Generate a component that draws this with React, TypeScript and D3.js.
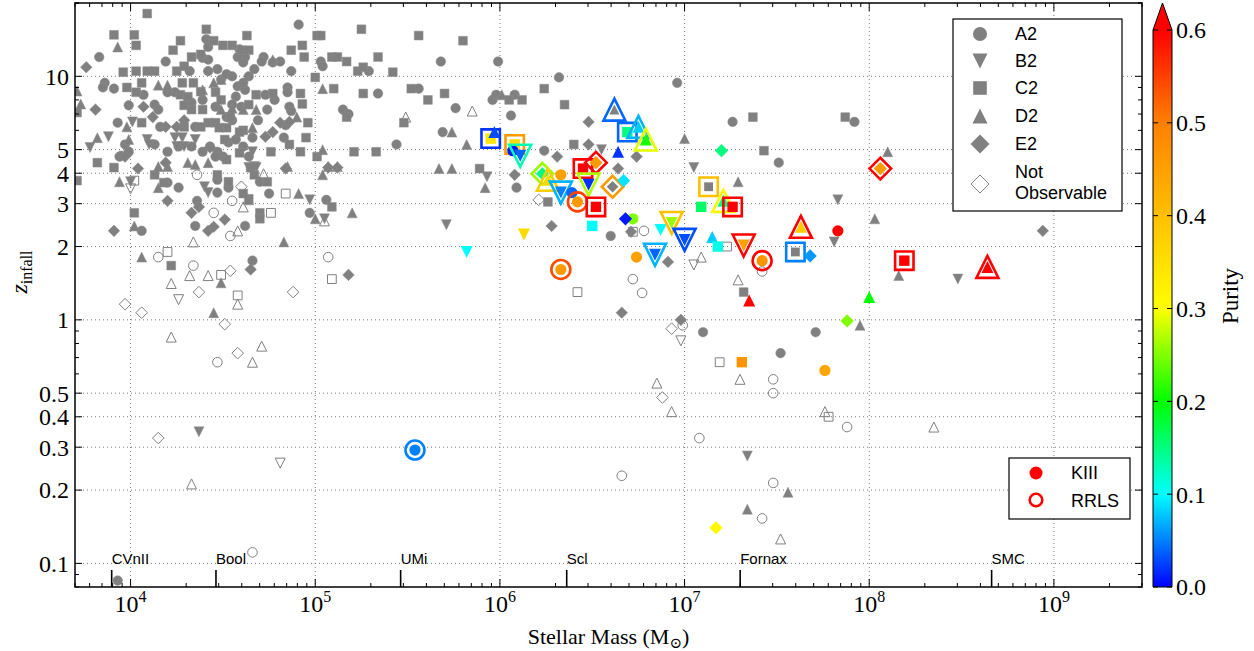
import React from 'react';
import * as d3 from 'd3';

// ---------------- data ----------------
const massDomain = [5e3, 3e9];
const zDomain = [0.08, 20];
const yTickValues = [0.1, 0.2, 0.3, 0.4, 0.5, 1, 2, 3, 4, 5, 10];
const xTickExponents = [4, 5, 6, 7, 8, 9];
const purityTicks = [0, 0.1, 0.2, 0.3, 0.4, 0.5, 0.6];
const purityStops = [0, 0.1, 0.2, 0.3, 0.5, 0.6];
const purityColors = ['#0000ff', '#00ffff', '#00ff00', '#ffff00', '#ff8000', '#ff0000'];
const galaxyNames = ['CVnII', 'Bool', 'UMi', 'Scl', 'Fornax', 'SMC'];
const galaxyMasses = [7.9e3, 2.9e4, 2.9e5, 2.3e6, 2.0e7, 4.6e8];
const haloNames = ['A2', 'B2', 'C2', 'D2', 'E2'];
const haloShapes = ['circle', 'tdown', 'square', 'tup', 'diamond'];

// gray (no purity) satellites: [log10 stellar mass, z_infall]
const grayA2 = [
  [3.83, 12.0], [4.19, 11.5], [4.41, 14.2], [4.42, 13.2], [4.39, 11.9], [4.42, 11.7], [4.59, 12.9], [4.62, 12.0],
  [3.86, 9.4], [3.85, 9.0], [3.91, 8.9], [3.99, 7.6], [3.93, 6.45], [4.07, 8.4], [4.13, 7.65], [4.15, 7.3],
  [4.24, 8.6], [4.2, 8.6], [4.16, 6.2], [3.97, 5.25], [3.99, 4.9], [3.95, 4.72], [4.13, 5.25], [4.2, 4.9],
  [4.26, 5.15], [4.33, 5.15], [4.35, 6.2], [4.47, 10.7], [4.49, 9.7], [4.52, 10.2], [4.55, 10.0], [4.58, 9.1],
  [4.62, 8.8], [4.57, 8.25], [4.6, 7.5], [4.55, 7.65], [4.46, 7.5], [4.52, 6.8], [4.39, 8.0], [4.33, 7.8],
  [4.55, 6.6], [4.64, 10.0], [4.58, 12.0], [4.61, 11.4], [4.61, 9.4], [4.42, 10.5], [4.32, 10.5], [4.39, 4.9],
  [4.43, 5.15], [4.47, 4.9], [4.5, 4.68], [4.53, 5.35], [4.57, 5.5], [4.61, 5.15], [4.64, 4.68],
  [4.91, 16.3], [5.03, 11.5], [5.04, 11.0], [4.87, 10.5], [5.29, 10.5], [5.34, 8.5], [5.15, 7.3], [4.85, 9.0],
  [4.85, 8.6], [4.86, 7.5], [4.87, 7.2], [4.83, 5.6], [5.44, 5.25], [4.74, 7.3], [4.72, 12.0], [4.71, 11.5],
  [4.81, 11.5], [4.77, 11.4], [4.66, 5.6], [3.94, 4.68], [4.2, 3.66], [4.26, 3.49], [4.47, 3.76], [4.53, 3.49],
  [4.47, 3.33], [4.36, 3.08], [4.35, 2.43], [4.62, 2.43], [4.75, 3.3], [4.97, 2.75], [5.06, 3.11], [4.06, 2.32],
  [4.66, 1.75], [4.7, 3.69], [4.46, 4.68], [5.68, 11.5], [5.99, 11.5], [6.32, 9.9], [6.96, 9.4], [5.96, 8.0],
  [5.98, 8.4], [6.08, 8.4], [5.76, 7.4], [5.56, 8.9], [5.69, 5.9], [6.06, 6.9], [6.09, 3.49], [6.24, 4.95],
  [7.26, 6.5], [7.51, 4.42], [7.92, 6.5], [7.1, 0.89], [7.71, 0.89], [7.52, 0.73], [3.93, 0.085], [5.18, 7.0],
  [6.6, 2.21], [4.67, 10.7], [4.73, 8.4], [4.78, 8.0], [4.84, 6.3], [4.69, 6.6],
];
const grayB2 = [
  [3.88, 5.65], [3.78, 5.1], [4.01, 6.5], [4.09, 5.5], [4.1, 5.25], [4.24, 5.6], [4.28, 5.6], [4.29, 5.15],
  [4.25, 5.15], [4.35, 5.5], [4.64, 4.22], [4.66, 4.9], [4.67, 4.26], [4.0, 3.69], [4.97, 3.11], [5.05, 2.6],
  [4.4, 3.52], [4.42, 3.33], [4.68, 4.22], [4.37, 0.347], [5.71, 2.46], [5.93, 3.87], [7.05, 4.22], [6.55, 5.0],
  [7.83, 3.11], [7.81, 2.09], [8.48, 1.47], [7.34, 0.276],
];
const grayC2 = [
  [4.09, 18.1], [3.91, 14.8], [4.02, 14.8], [4.03, 13.4], [4.27, 14.0], [4.41, 15.6], [4.63, 14.7], [4.23, 12.8],
  [4.33, 12.0], [4.45, 14.0], [4.5, 13.4], [4.55, 13.4], [4.6, 12.8], [4.64, 12.8], [4.38, 12.3], [3.96, 10.4],
  [4.03, 10.5], [4.09, 10.5], [4.13, 10.5], [4.25, 10.5], [4.29, 11.0], [4.06, 9.4], [4.03, 8.6], [3.98, 9.0],
  [4.28, 9.4], [4.34, 9.4], [4.27, 8.4], [4.31, 8.25], [4.38, 8.65], [4.46, 8.6], [4.49, 8.0], [4.29, 7.6],
  [4.33, 7.3], [4.39, 7.3], [4.42, 6.45], [4.46, 6.45], [4.52, 6.15], [4.54, 6.8], [4.61, 6.0], [4.64, 7.65],
  [4.59, 5.9], [4.06, 6.45], [3.82, 4.42], [3.91, 4.22], [3.71, 7.1], [4.38, 6.2], [4.29, 6.2], [4.48, 6.15],
  [4.51, 5.5], [4.59, 4.85], [4.52, 4.55], [4.65, 4.22], [5.01, 14.7], [5.03, 14.7], [5.25, 15.6], [5.56, 14.7],
  [4.93, 13.4], [4.87, 12.8], [4.94, 12.0], [5.09, 12.0], [5.12, 12.0], [5.17, 11.5], [5.34, 12.0], [5.23, 10.5],
  [5.26, 10.9], [5.42, 10.4], [5.0, 9.9], [5.1, 8.9], [5.26, 8.5], [5.52, 8.9], [4.92, 8.5], [4.93, 7.7],
  [5.17, 6.8], [5.48, 6.45], [4.96, 6.45], [4.95, 5.6], [4.86, 5.25], [4.76, 4.9], [4.92, 4.9], [5.01, 4.68],
  [5.21, 4.9], [5.33, 4.9], [4.77, 8.5], [4.68, 8.4], [5.8, 14.0], [5.61, 8.0], [5.7, 8.5], [6.05, 8.0],
  [6.12, 8.0], [6.24, 8.9], [6.35, 7.65], [5.89, 4.18], [6.4, 5.25], [7.37, 6.8], [7.43, 4.95], [7.87, 6.8],
  [7.32, 1.3], [6.26, 3.05], [3.71, 3.73], [4.02, 2.75], [4.22, 1.67], [4.13, 3.94], [4.18, 3.66], [4.47, 3.94],
  [4.53, 3.69], [4.67, 3.94], [4.74, 3.69], [4.61, 3.3], [4.64, 3.14], [4.7, 2.75], [4.7, 2.6], [5.09, 2.91],
];
const grayD2 = [
  [3.93, 13.2], [3.71, 8.7], [3.73, 7.7], [3.82, 5.6], [3.98, 6.2], [3.99, 5.5], [4.15, 9.2], [4.2, 9.2],
  [4.39, 8.8], [4.45, 9.4], [4.49, 7.3], [4.55, 7.4], [4.2, 4.26], [4.31, 4.42], [4.35, 4.34], [4.42, 4.42],
  [4.15, 4.26], [4.49, 9.7], [5.04, 8.9], [4.61, 7.3], [4.68, 7.3], [4.9, 6.8], [4.66, 6.15], [5.04, 5.0],
  [4.85, 4.26], [5.07, 4.26], [5.12, 4.26], [4.77, 11.7], [3.94, 3.69], [4.02, 2.43], [4.06, 1.81], [4.49, 1.42],
  [4.45, 1.07], [4.64, 3.11], [4.91, 3.3], [5.0, 2.6], [5.2, 2.75], [4.83, 2.09], [5.04, 3.94], [4.15, 3.49],
  [5.74, 5.9], [5.82, 5.25], [5.67, 4.18], [5.74, 4.18], [5.92, 3.49], [6.01, 8.4], [7.0, 5.55], [7.29, 3.69],
  [8.1, 4.9], [8.03, 2.6], [8.16, 1.52], [7.95, 0.95], [7.56, 0.196], [7.34, 0.167],
];
const grayE2 = [
  [3.76, 10.9], [3.81, 7.3], [4.07, 7.5], [4.12, 6.8], [4.25, 6.2], [4.29, 6.6], [4.19, 6.2], [4.43, 5.1],
  [3.97, 4.68], [4.19, 4.42], [4.81, 6.45], [4.86, 6.5], [4.73, 5.65], [4.77, 5.9], [3.91, 2.32], [4.2, 3.08],
  [4.33, 2.75], [4.37, 2.91], [4.51, 2.58], [4.42, 2.32], [4.45, 2.41], [4.65, 1.61], [5.18, 1.53], [4.84, 4.18],
  [5.07, 4.22], [5.12, 4.22], [4.04, 4.18], [6.48, 6.5], [6.48, 5.25], [6.31, 4.68], [6.08, 3.94], [6.64, 4.18],
  [6.74, 4.68], [6.28, 2.43], [6.91, 1.73], [6.66, 1.07], [6.71, 2.3], [6.98, 1.0], [8.94, 2.32],
];

// not observable satellites (open gray markers)
const openA2 = [
  [4.36, 3.94], [4.45, 2.75], [4.55, 3.08], [4.54, 2.21], [4.15, 1.81], [4.34, 1.67], [4.47, 0.67], [4.66, 0.111],
  [5.07, 1.81], [6.72, 1.47], [6.77, 1.29], [6.78, 2.32], [7.42, 1.58], [6.99, 0.95], [7.48, 0.57], [7.48, 0.5],
  [7.88, 0.363], [7.08, 0.327], [6.66, 0.229], [7.48, 0.214], [7.42, 0.153],
];
const openB2 = [[4.0, 3.45], [4.26, 1.21], [4.81, 0.258], [7.05, 1.68], [6.98, 0.82]];
const openC2 = [
  [4.02, 3.73], [4.2, 1.9], [4.49, 1.53], [4.58, 1.26], [4.76, 2.75], [4.84, 3.3], [5.09, 1.47], [6.42, 1.3],
  [6.72, 2.3], [7.23, 2.0], [7.19, 0.67], [7.78, 0.4],
];
const openD2 = [
  [4.32, 1.52], [4.42, 1.52], [4.22, 1.41], [4.22, 0.85], [4.58, 1.16], [4.71, 0.78], [4.66, 0.67], [4.33, 0.212],
  [4.58, 2.32], [4.34, 2.09], [4.61, 2.91], [4.72, 3.98], [5.49, 6.8], [5.85, 7.2], [7.09, 1.81], [7.29, 1.46],
  [7.3, 0.57], [6.85, 0.55], [6.93, 0.42], [7.76, 0.42], [7.52, 0.126], [8.35, 0.363], [5.05, 2.55],
];
const openE2 = [
  [3.97, 1.16], [4.06, 1.07], [4.37, 1.3], [4.88, 1.3], [4.51, 0.96], [4.58, 0.73], [4.15, 0.327], [4.54, 1.59],
  [4.6, 3.52], [6.21, 3.11], [6.88, 0.48], [6.93, 0.92],
];

// observable satellites: [halo index, log10 mass, z_infall, KIII purity (null = gray), RRLS purity (null = none)]
const satellites = [
  [2, 5.95, 5.55, 0.34, 0.02], [3, 5.97, 5.9, 0.03, null], [2, 6.08, 5.25, 0.36, 0.46],
  [0, 6.07, 4.95, 0.01, null], [1, 6.11, 4.72, 0.04, 0.13], [4, 6.23, 3.98, 0.15, 0.26],
  [3, 6.26, 3.76, 0.36, 0.38], [0, 6.33, 3.94, 0.45, null], [1, 6.33, 3.33, 0.05, 0.07],
  [0, 6.39, 3.33, 0.04, null], [0, 6.42, 3.05, 0.46, 0.55], [2, 6.45, 4.18, 0.62, 0.62],
  [4, 6.52, 4.42, 0.46, 0.62], [1, 6.48, 3.59, 0.02, 0.27], [2, 6.52, 2.91, 0.62, 0.62],
  [2, 6.5, 2.43, 0.1, null], [4, 6.61, 3.52, null, 0.46], [4, 6.67, 3.73, 0.09, null],
  [3, 6.62, 7.3, null, 0.04], [2, 6.69, 5.9, 0.15, 0.04], [3, 6.75, 6.2, 0.08, 0.07],
  [3, 6.79, 5.5, 0.21, 0.29], [3, 6.64, 4.9, 0.02, null], [0, 6.72, 2.6, 0.25, null],
  [4, 6.68, 2.6, 0.01, null], [1, 6.84, 1.85, 0.04, 0.07], [1, 6.87, 2.34, 0.1, null],
  [1, 6.93, 2.5, 0.26, 0.4], [1, 7.0, 2.13, 0.03, 0.03], [0, 6.74, 1.81, 0.45, null],
  [0, 6.33, 1.61, 0.46, 0.54], [1, 5.82, 1.9, 0.1, null], [1, 6.13, 2.24, 0.36, null],
  [4, 7.2, 4.95, 0.15, null], [2, 7.13, 3.52, null, 0.4], [3, 7.21, 3.08, 0.15, 0.31],
  [2, 7.26, 2.91, 0.62, 0.62], [2, 7.09, 2.91, 0.16, null], [3, 7.15, 2.19, 0.08, null],
  [2, 7.18, 2.0, 0.11, null], [1, 7.32, 2.02, 0.45, 0.62], [0, 7.42, 1.75, 0.47, 0.62],
  [2, 7.6, 1.9, null, 0.05], [4, 7.68, 1.83, 0.06, null], [3, 7.63, 2.41, 0.38, 0.62],
  [3, 7.35, 1.2, 0.62, null], [0, 7.83, 2.32, 0.62, null], [4, 8.06, 4.18, 0.46, 0.62],
  [2, 8.19, 1.75, 0.62, 0.62], [3, 8.64, 1.65, 0.62, 0.62], [3, 8.0, 1.24, 0.2, null],
  [4, 7.88, 0.99, 0.25, null], [0, 5.54, 0.292, 0.05, 0.05], [2, 7.31, 0.67, 0.47, null],
  [0, 7.76, 0.62, 0.44, null], [4, 7.17, 0.14, 0.31, null],
];

const grayByHalo = [grayA2, grayB2, grayC2, grayD2, grayE2];
const openByHalo = [openA2, openB2, openC2, openD2, openE2];

// ---------------- drawing ----------------
const W = 1254, H = 651;
const L = 75, R = 1142, T = 3, B = 587;
const CB_X0 = 1153, CB_X1 = 1172, CB_TOP = 30;
const GRAY = '#808080';
const SERIF = '"Liberation Serif", "DejaVu Serif", serif';
const SANS = '"Liberation Sans", Arial, sans-serif';

const xS = d3.scaleLog().domain(massDomain).range([L, R]);
const yS = d3.scaleLog().domain(zDomain).range([B, T]);
const pS = d3.scaleLinear().domain([0, 0.6]).range([B, CB_TOP]);
const colorOf = d3.scaleLinear<string>().domain(purityStops).range(purityColors).clamp(true);

function shapePath(shape: string, r: number): string {
  switch (shape) {
    case 'circle': return `M${r},0A${r},${r},0,1,1,${-r},0A${r},${r},0,1,1,${r},0Z`;
    case 'square': return `M${-r},${-r}H${r}V${r}H${-r}Z`;
    case 'tup': return `M0,${-r}L${r},${r}L${-r},${r}Z`;
    case 'tdown': return `M0,${r}L${r},${-r}L${-r},${-r}Z`;
    default: return `M0,${-r}L${r},0L0,${r}L${-r},0Z`;
  }
}
const smallR: Record<string, number> = { circle: 4.8, square: 4.4, tup: 5, tdown: 5, diamond: 5.8 };
const innerR: Record<string, number> = { circle: 5.6, square: 5.2, tup: 6, tdown: 6, diamond: 6.6 };
const ringR: Record<string, number> = { circle: 9.5, square: 9.2, tup: 11, tdown: 11, diamond: 10.8 };
const legR: Record<string, number> = { circle: 7, square: 6.8, tup: 7.5, tdown: 7.5, diamond: 9.5 };

function Mk(p: { shape: string; x: number; y: number; r: number; fill: string; stroke?: string; sw?: number }) {
  return (
    <path d={shapePath(p.shape, p.r)} transform={`translate(${p.x},${p.y})`} fill={p.fill}
      stroke={p.stroke || 'none'} strokeWidth={p.sw || 0} />
  );
}

function fmt(v: number) { return String(v); }

export default function App() {
  // ticks
  const xMinor: number[] = [];
  for (let k = 3; k <= 9; k++) for (let m = 1; m <= 9; m++) {
    const v = m * Math.pow(10, k);
    if (v >= massDomain[0] && v <= massDomain[1]) xMinor.push(v);
  }
  const yMinor: number[] = [];
  for (let k = -2; k <= 1; k++) for (let m = 1; m <= 9; m++) {
    const v = +(m * Math.pow(10, k)).toPrecision(3);
    if (v >= zDomain[0] && v <= zDomain[1]) yMinor.push(v);
  }
  yMinor.push(20);
  const isMajorY = (v: number) => yTickValues.some((t) => Math.abs(t - v) < 1e-9);

  return (
    <svg width={W} height={H} viewBox={`0 0 ${W} ${H}`}
      style={{ position: 'absolute', left: 0, top: 0, display: 'block', background: '#fff' }}>
      <defs>
        <clipPath id="plotclip"><rect x={L} y={T} width={R - L} height={B - T} /></clipPath>
        <linearGradient id="cbgrad" x1="0" y1="1" x2="0" y2="0">
          {purityStops.map((s, i) => (
            <stop key={i} offset={`${(s / 0.6) * 100}%`} stopColor={purityColors[i]} />
          ))}
        </linearGradient>
      </defs>
      <rect x={0} y={0} width={W} height={H} fill="#fff" />

      {/* grid */}
      <g stroke="#7a7a7a" strokeWidth={1} strokeDasharray="1,3">
        {xTickExponents.map((e) => (
          <line key={'gx' + e} x1={xS(Math.pow(10, e))} x2={xS(Math.pow(10, e))} y1={T} y2={B} />
        ))}
        {yTickValues.map((v) => (
          <line key={'gy' + v} x1={L} x2={R} y1={yS(v)} y2={yS(v)} />
        ))}
      </g>

      {/* galaxy reference marks */}
      <g>
        {galaxyNames.map((n, i) => {
          const x = xS(galaxyMasses[i]);
          return (
            <g key={n}>
              <line x1={x} x2={x} y1={B} y2={B - 17} stroke="#000" strokeWidth={1.6} />
              <text x={x} y={B - 23} fontFamily={SANS} fontSize={15} fill="#000">{n}</text>
            </g>
          );
        })}
      </g>

      {/* data */}
      <g clipPath="url(#plotclip)">
        {openByHalo.map((arr, h) => arr.map((d, i) => (
          <Mk key={`o${h}-${i}`} shape={haloShapes[h]} x={xS(Math.pow(10, d[0]))} y={yS(d[1])}
            r={smallR[haloShapes[h]]} fill="none" stroke={GRAY} sw={1} />
        )))}
        {grayByHalo.map((arr, h) => arr.map((d, i) => (
          <Mk key={`g${h}-${i}`} shape={haloShapes[h]} x={xS(Math.pow(10, d[0]))} y={yS(d[1])}
            r={smallR[haloShapes[h]]} fill={GRAY} stroke="#8c8c8c" sw={0.5} />
        )))}
        {satellites.map((s, i) => {
          const shape = haloShapes[s[0] as number];
          const x = xS(Math.pow(10, s[1] as number));
          const y = yS(s[2] as number);
          const k = s[3] as number | null;
          const rr = s[4] as number | null;
          return (
            <g key={'s' + i}>
              {rr !== null && (
                <Mk shape={shape} x={x} y={y} r={ringR[shape]} fill="none" stroke={colorOf(rr)} sw={2.6} />
              )}
              <Mk shape={shape} x={x} y={y} r={k === null ? smallR[shape] : innerR[shape]}
                fill={k === null ? GRAY : colorOf(k)} />
            </g>
          );
        })}
      </g>

      {/* axes frame and ticks */}
      <g stroke="#000" strokeWidth={1}>
        {xMinor.map((v) => {
          const major = Math.abs(Math.log10(v) - Math.round(Math.log10(v))) < 1e-9;
          const len = major ? 8 : 4;
          const x = xS(v);
          return (
            <g key={'xt' + v}>
              <line x1={x} x2={x} y1={B} y2={B - len} />
              <line x1={x} x2={x} y1={T} y2={T + len} />
            </g>
          );
        })}
        {yMinor.map((v) => {
          const len = isMajorY(v) ? 7 : 4;
          const y = yS(v);
          return (
            <g key={'yt' + v}>
              <line x1={L} x2={L + len} y1={y} y2={y} />
              <line x1={R} x2={R - len} y1={y} y2={y} />
            </g>
          );
        })}
      </g>
      <rect x={L} y={T} width={R - L} height={B - T} fill="none" stroke="#000" strokeWidth={1.5} />

      {/* tick labels */}
      <g fontFamily={SERIF} fill="#000">
        {yTickValues.map((v) => (
          <text key={'yl' + v} x={L - 6} y={yS(v)} dy="0.35em" textAnchor="end" fontSize={24}>{fmt(v)}</text>
        ))}
        {xTickExponents.map((e) => (
          <text key={'xl' + e} x={xS(Math.pow(10, e))} y={612} textAnchor="middle" fontSize={24}>
            10<tspan dy={-10} fontSize={16}>{e}</tspan>
          </text>
        ))}
        <text x={(L + R) / 2} y={644} textAnchor="middle" fontSize={22}>
          Stellar Mass (M<tspan dy={4} fontSize={15}>⊙</tspan><tspan dy={-4}>)</tspan>
        </text>
        <text transform="translate(27,272) rotate(-90)" textAnchor="middle" fontSize={24}>
          <tspan fontStyle="italic">z</tspan><tspan dy={5} fontSize={16}>infall</tspan>
        </text>
      </g>

      {/* legend 1 */}
      <g>
        <rect x={953} y={19} width={169} height={192} fill="#fff" stroke="#000" strokeWidth={1.2} />
        {haloNames.map((n, i) => {
          const yy = [34, 61, 88, 116, 144][i];
          return (
            <g key={n}>
              <Mk shape={haloShapes[i]} x={980} y={yy} r={legR[haloShapes[i]]} fill={GRAY} />
              <text x={1015} y={yy} dy="0.36em" fontFamily={SANS} fontSize={18} fill="#000">{n}</text>
            </g>
          );
        })}
        <Mk shape="diamond" x={980} y={184} r={9} fill="#fff" stroke={GRAY} sw={1} />
        <text x={1015} y={178} fontFamily={SANS} fontSize={18} fill="#000">Not</text>
        <text x={1015} y={199} fontFamily={SANS} fontSize={18} fill="#000">Observable</text>
      </g>

      {/* legend 2 */}
      <g>
        <rect x={1009} y={458} width={121} height={61} fill="#fff" stroke="#000" strokeWidth={1.2} />
        <circle cx={1036} cy={473} r={6.5} fill="#ff0000" />
        <circle cx={1036} cy={500} r={6.3} fill="none" stroke="#ff0000" strokeWidth={2.6} />
        <text x={1071} y={479} fontFamily={SANS} fontSize={18} fill="#000">KIII</text>
        <text x={1071} y={507} fontFamily={SANS} fontSize={18} fill="#000">RRLS</text>
      </g>

      {/* colorbar */}
      <g>
        <rect x={CB_X0} y={CB_TOP} width={CB_X1 - CB_X0} height={B - CB_TOP} fill="url(#cbgrad)" />
        <path d={`M${CB_X0},${CB_TOP}L${(CB_X0 + CB_X1) / 2},${T}L${CB_X1},${CB_TOP}Z`} fill={colorOf(0.6)} />
        <path d={`M${CB_X0},${B}V${CB_TOP}L${(CB_X0 + CB_X1) / 2},${T}L${CB_X1},${CB_TOP}V${B}Z`}
          fill="none" stroke="#000" strokeWidth={1} />
        {purityTicks.map((v) => (
          <g key={'cb' + v}>
            <line x1={CB_X1} x2={CB_X1 - 5} y1={pS(v)} y2={pS(v)} stroke="#000" strokeWidth={1} />
            <line x1={CB_X0} x2={CB_X0 + 5} y1={pS(v)} y2={pS(v)} stroke="#000" strokeWidth={1} />
            <text x={CB_X1 + 4} y={pS(v)} dy="0.35em" fontFamily={SERIF} fontSize={24} fill="#000">{v.toFixed(1)}</text>
          </g>
        ))}
        <text transform="translate(1238,296) rotate(-90)" textAnchor="middle" fontFamily={SERIF} fontSize={23} fill="#000">Purity</text>
      </g>
    </svg>
  );
}
